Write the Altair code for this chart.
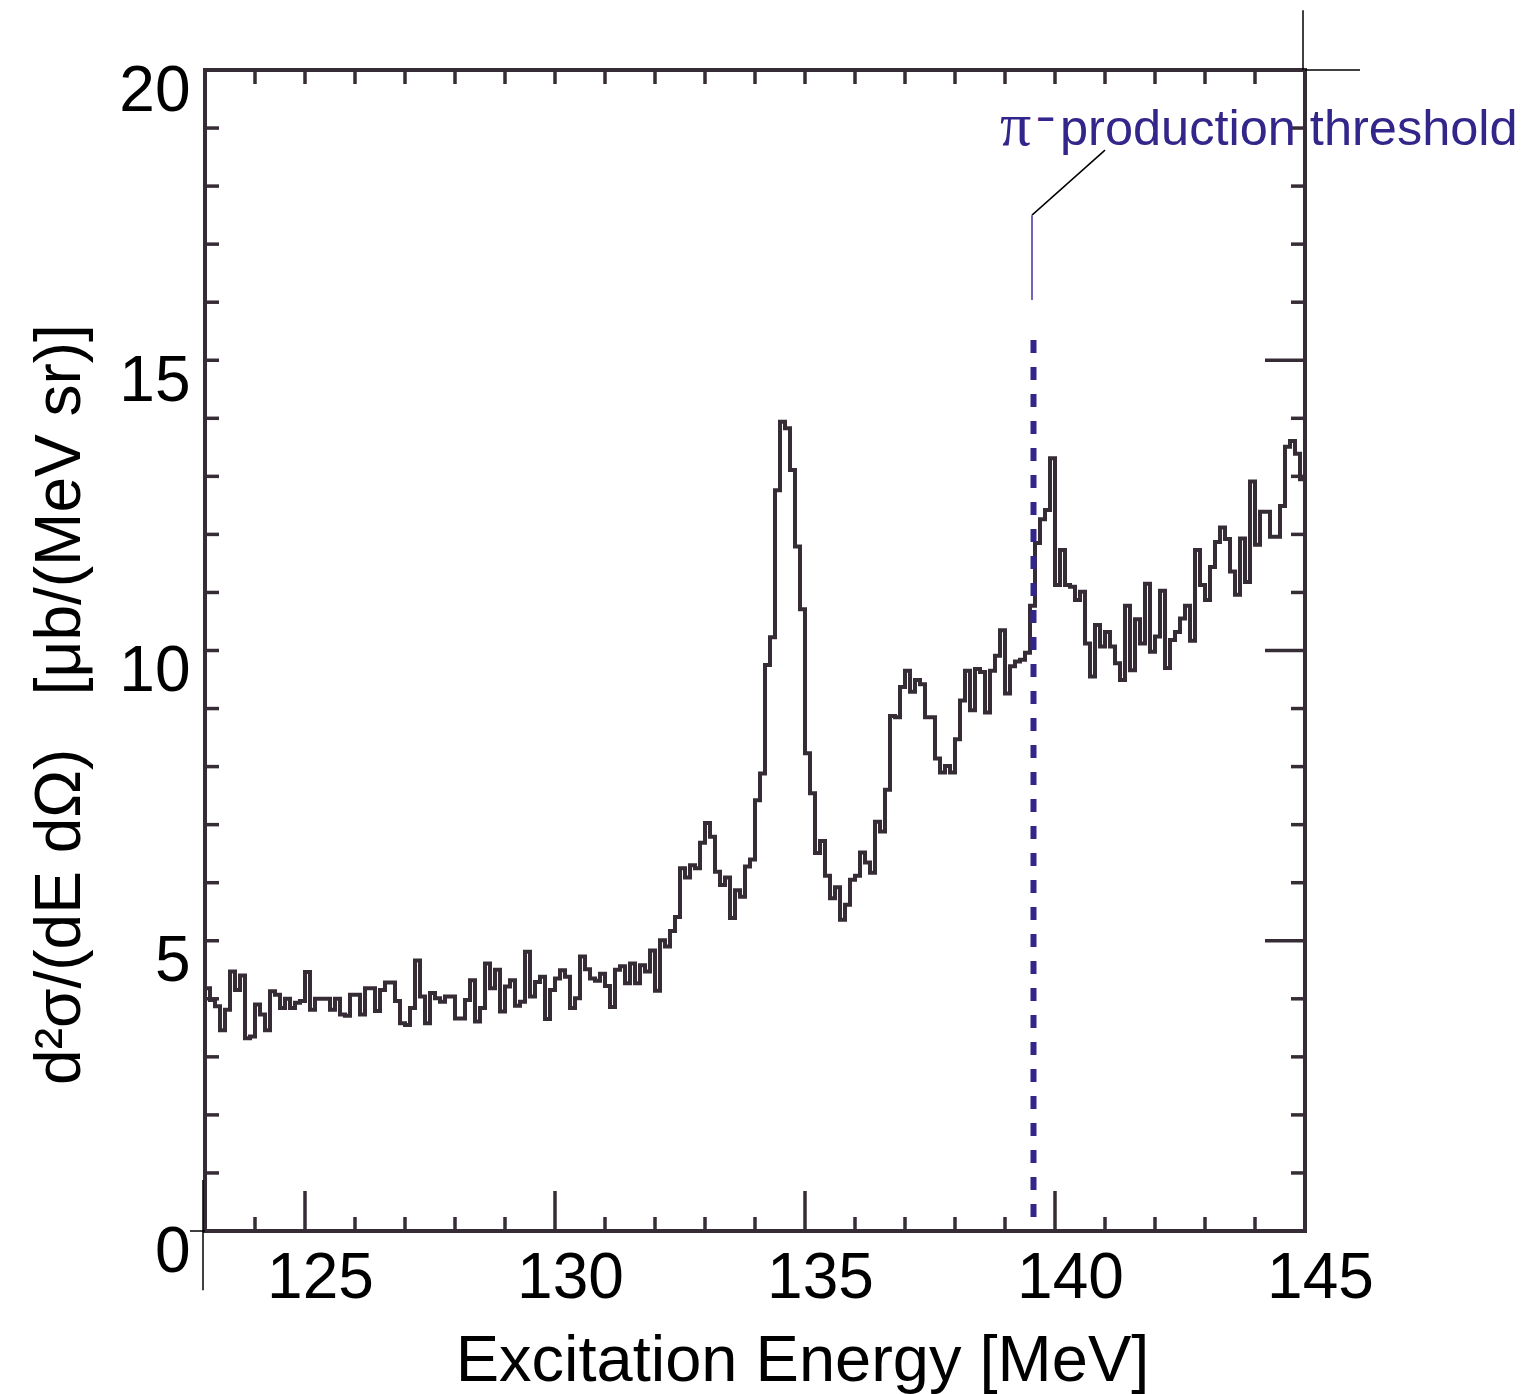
import altair as alt
import pandas as pd

# ---------------- data ----------------
BIN_START = 123.0   # MeV, left edge of first bin
BIN_WIDTH = 0.1     # MeV

counts = [
    4.18, 3.98, 3.87, 3.46, 3.81, 4.47, 4.15, 4.40, 3.32, 3.35,
    3.90, 3.73, 3.46, 4.13, 4.07, 3.84, 4.00, 3.84, 3.93, 3.96,
    4.46, 3.81, 4.00, 4.00, 4.00, 3.81, 4.00, 3.73, 3.71, 4.07,
    4.07, 3.73, 4.18, 4.18, 3.79, 4.15, 4.28, 4.28, 3.96, 3.58,
    3.55, 3.84, 4.66, 4.04, 3.58, 4.10, 4.01, 3.95, 4.04, 4.04,
    3.66, 3.66, 3.98, 4.32, 3.61, 3.84, 4.61, 4.18, 4.50, 3.78,
    4.21, 4.32, 3.88, 3.95, 4.81, 4.04, 4.29, 4.38, 3.65, 4.15,
    4.35, 4.49, 4.38, 3.84, 4.01, 4.73, 4.51, 4.35, 4.31, 4.43,
    4.22, 3.86, 4.50, 4.56, 4.27, 4.61, 4.27, 4.58, 4.47, 4.83,
    4.14, 5.01, 4.90, 5.17, 5.41, 6.25, 6.09, 6.30, 6.25, 6.69,
    7.03, 6.79, 6.19, 5.96, 6.09, 5.39, 5.87, 5.76, 6.28, 6.40,
    7.42, 7.88, 9.75, 10.23, 12.76, 13.94, 13.83, 13.11, 11.79, 10.71,
    8.23, 7.54, 6.51, 6.72, 6.12, 5.73, 5.92, 5.36, 5.62, 6.05,
    6.12, 6.52, 6.35, 6.17, 7.05, 6.88, 7.60, 8.87, 8.85, 9.37,
    9.65, 9.29, 9.49, 9.42, 8.85, 8.85, 8.14, 7.90, 8.01, 7.90,
    8.47, 9.14, 9.65, 8.97, 9.68, 9.63, 8.93, 9.65, 9.91, 10.35,
    9.26, 9.73, 9.81, 9.84, 9.96, 10.77, 11.85, 12.26, 12.42, 13.31,
    11.13, 11.73, 11.13, 11.10, 10.87, 11.01, 10.12, 9.55, 10.44, 10.07,
    10.32, 10.07, 9.78, 9.49, 10.77, 9.66, 10.54, 10.12, 11.15, 9.98,
    10.24, 11.03, 9.70, 10.18, 10.32, 10.55, 10.77, 10.17, 11.73, 11.13,
    10.87, 11.44, 11.87, 12.12, 11.92, 11.36, 10.96, 11.93, 11.18, 12.91,
    11.82, 12.39, 12.39, 11.96, 11.96, 12.49, 13.51, 13.61, 13.39, 12.95,
]

x_tick_labels = [125, 130, 135, 140, 145]
y_tick_labels = [0, 5, 10, 15, 20]
x_minor = list(range(124, 145))
y_minor = list(range(1, 20))

threshold_energy = 139.57
threshold_top = 15.35

annot_text = "production threshold"
annot_pi = "π"
annot_minus = "−"

x_title = "Excitation Energy [MeV]"
y_title = "d²σ/(dE dΩ)\u00a0\u00a0\u00a0[μb/(MeV sr)]"

# ---------------- styling ----------------
INK = "#362c36"
INDIGO = "#33268a"
FONT = "Liberation Sans"

XMIN, XMAX = 123.0, 145.0
YMIN, YMAX = 0.0, 20.0
W, H = 1100, 1161
px_x = (XMAX - XMIN) / W      # MeV per pixel
px_y = (YMAX - YMIN) / H      # units per pixel

xs = alt.Scale(domain=[XMIN, XMAX], nice=False, zero=False)
ys = alt.Scale(domain=[YMIN, YMAX], nice=False, zero=False)

x_axis = alt.Axis(
    values=x_tick_labels, ticks=False, tickSize=0, domain=False, grid=False,
    labelFontSize=64, labelFont=FONT, labelColor="black", labelPadding=15,
    labelOffset=15, labelFlush=False, labelOverlap=False, labelBound=False,
    title=x_title, titleFontSize=65, titleFont=FONT, titleFontWeight="normal",
    titleColor="black", titleX=597, titleY=149, titleBaseline="alphabetic",
    titleAlign="center",
)
y_axis = alt.Axis(
    values=y_tick_labels, ticks=False, tickSize=0, domain=False, grid=False,
    labelFontSize=64, labelFont=FONT, labelColor="black", labelPadding=15,
    labelOffset=21, labelFlush=False, labelOverlap=False, labelBound=False,
    title=y_title, titleFontSize=64, titleFont=FONT, titleFontWeight="normal",
    titleColor="black", titleX=-126, titleY=634, titleBaseline="alphabetic",
    titleAlign="center", titleAngle=270,
)


def X(field):
    return alt.X(field, type="quantitative", scale=xs, axis=x_axis)


def Y(field):
    return alt.Y(field, type="quantitative", scale=ys, axis=y_axis)


# ---------------- histogram ----------------
edges = [round(BIN_START + BIN_WIDTH * i, 3) for i in range(len(counts) + 1)]
hist_df = pd.DataFrame({"E": edges, "v": counts + [counts[-1]]})

hist = alt.Chart(hist_df).mark_line(
    interpolate="step-after", color=INK, strokeWidth=4
).encode(x=X("E"), y=Y("v"))

# ---------------- inward ticks on all four sides ----------------
MAJ_V, MIN_V = 40 * px_y, 14 * px_y
MAJ_H, MIN_H = 40 * px_x, 14 * px_x
rows = []
for e in x_minor:
    L = MAJ_V if e % 5 == 0 else MIN_V
    rows.append({"x": e, "x2": e, "y": YMIN, "y2": YMIN + L})
    rows.append({"x": e, "x2": e, "y": YMAX, "y2": YMAX - MIN_V})
for v in y_minor:
    L = MAJ_H if v % 5 == 0 else MIN_H
    rows.append({"x": XMIN, "x2": XMIN + MIN_H, "y": v, "y2": v})
    rows.append({"x": XMAX, "x2": XMAX - L, "y": v, "y2": v})
ticks_df = pd.DataFrame(rows)

ticks = alt.Chart(ticks_df).mark_rule(color=INK, strokeWidth=3.5).encode(
    x=X("x"), x2="x2:Q", y=Y("y"), y2="y2:Q",
)

# ---------------- threshold line and annotation ----------------
thr_df = pd.DataFrame({"x": [threshold_energy], "y": [threshold_top], "y2": [0.0]})
thr = alt.Chart(thr_df).mark_rule(
    color=INDIGO, strokeWidth=6, strokeDash=[13, 14]
).encode(x=X("x"), y=Y("y"), y2="y2:Q")

lead_df = pd.DataFrame({"x": [139.54], "x2": [141.0], "y": [17.50], "y2": [18.62]})
lead = alt.Chart(lead_df).mark_rule(color="black", strokeWidth=1.5).encode(
    x=X("x"), x2="x2:Q", y=Y("y"), y2="y2:Q",
)
lead2_df = pd.DataFrame({"x": [139.54], "y": [16.04], "y2": [17.50]})
lead2 = alt.Chart(lead2_df).mark_rule(color="#6f66b8", strokeWidth=2).encode(
    x=X("x"), y=Y("y"), y2="y2:Q",
)

txt_df = pd.DataFrame({"x": [140.1], "y": [18.71], "t": [annot_text]})
txt = alt.Chart(txt_df).mark_text(
    align="left", baseline="alphabetic", font=FONT, fontSize=50.5, color=INDIGO
).encode(x=X("x"), y=Y("y"), text="t:N")

pi_df = pd.DataFrame({"x": [138.9], "y": [18.71], "t": [annot_pi]})
pi = alt.Chart(pi_df).mark_text(
    align="left", baseline="alphabetic", font="Liberation Serif", fontSize=62, color=INDIGO
).encode(x=X("x"), y=Y("y"), text="t:N")

mn_df = pd.DataFrame({"x": [139.64], "y": [18.98], "t": [annot_minus]})
mn = alt.Chart(mn_df).mark_text(
    align="left", baseline="alphabetic", font=FONT, fontSize=30, fontWeight="bold", color=INDIGO
).encode(x=X("x"), y=Y("y"), text="t:N")

# ---------------- stray crop marks seen in the figure ----------------
marks_df = pd.DataFrame({
    "x":  [144.96, 145.0, 122.96, 122.7],
    "x2": [144.96, 146.1, 122.96, 123.0],
    "y":  [20.0, 20.0, 0.88, 0.0],
    "y2": [21.03, 20.0, -1.02, 0.0],
})
crop = alt.Chart(marks_df).mark_rule(color="black", strokeWidth=1.5).encode(
    x=X("x"), x2="x2:Q", y=Y("y"), y2="y2:Q",
)

chart = alt.layer(hist, ticks, thr, lead, lead2, pi, mn, txt, crop).properties(
    width=W, height=H,
    autosize=alt.AutoSizeParams(type="none"),
    padding={"left": 205, "top": 70, "right": 222, "bottom": 163},
).configure_view(stroke=INK, strokeWidth=4)

chart.save("out.html", embed_options={"renderer": "svg", "actions": False})
